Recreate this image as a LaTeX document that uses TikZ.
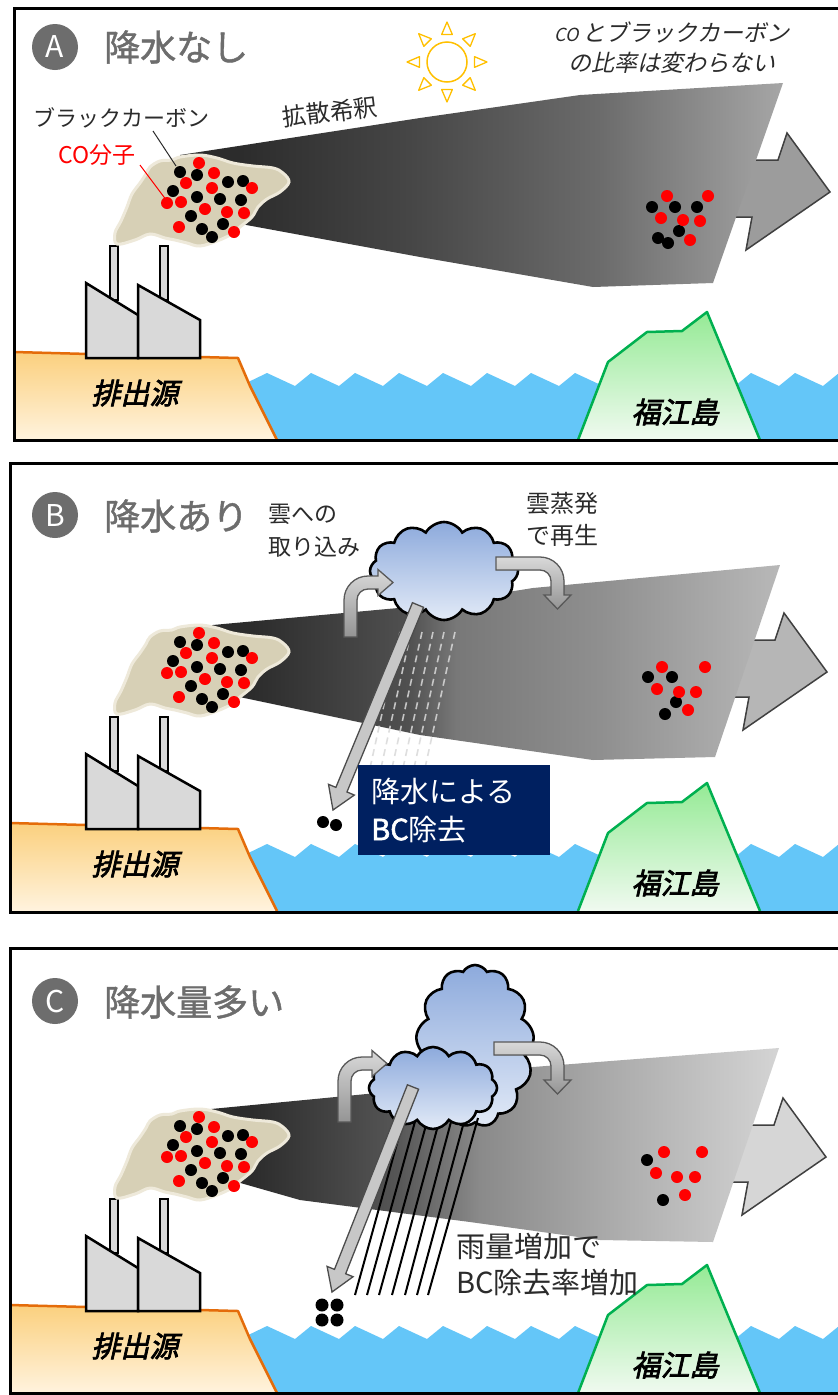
\documentclass[tikz,border=0pt]{standalone}
\usepackage{fontspec}
\newfontfamily\jp{Noto Sans CJK JP}
\newfontfamily\jpt[FakeBold=1.2]{Noto Sans CJK JP}
\newfontfamily\jpb[FakeBold=2]{Noto Sans CJK JP}
\newfontfamily\jpi[FakeSlant=0.22]{Noto Sans CJK JP}
\newfontfamily\jpbi[FakeBold=2.5,FakeSlant=0.22]{Noto Sans CJK JP}
\usetikzlibrary{shapes.symbols,calc}

\definecolor{titlegray}{HTML}{6D6D6D}
\definecolor{sunorange}{HTML}{FFC000}
\definecolor{seablue}{HTML}{64C6F8}
\definecolor{landedge}{HTML}{E46C0A}
\definecolor{landtop}{HTML}{FBD07E}
\definecolor{landbot}{HTML}{FFF3DE}
\definecolor{isledge}{HTML}{00B050}
\definecolor{isltop}{HTML}{95EA95}
\definecolor{islbot}{HTML}{F0FAF0}
\definecolor{smokefill}{HTML}{D7D0B6}
\definecolor{smokeedge}{HTML}{EEE9DA}
\definecolor{factoryfill}{HTML}{D9D9D9}
\definecolor{cloudtop}{HTML}{8DAADC}
\definecolor{cloudbot}{HTML}{E2EAF7}
\definecolor{navybox}{HTML}{002060}
\definecolor{textdark}{HTML}{2B2B2B}
\definecolor{dotred}{HTML}{FF0000}
\definecolor{arrowA}{HTML}{9C9C9C}
\definecolor{arrowB}{HTML}{B6B6B6}
\definecolor{arrowC}{HTML}{D6D6D6}
% plume colours
\definecolor{pA0}{HTML}{2C2C2C}\definecolor{pA1}{HTML}{464646}
\definecolor{pA2}{HTML}{6C6C6C}\definecolor{pA3}{HTML}{A6A6A6}
\definecolor{pB0}{HTML}{2C2C2C}\definecolor{pB1}{HTML}{505050}
\definecolor{pB2}{HTML}{787878}\definecolor{pB3}{HTML}{8F8F8F}\definecolor{pB4}{HTML}{B8B8B8}
\definecolor{pC0}{HTML}{2C2C2C}\definecolor{pC1}{HTML}{555555}
\definecolor{pC2}{HTML}{8A8A8A}\definecolor{pC3}{HTML}{A8A8A8}\definecolor{pC4}{HTML}{D4D4D4}

\pgfdeclarehorizontalshading{plumeA}{100bp}{color(0bp)=(pA0); color(30bp)=(pA0); color(44bp)=(pA1); color(60bp)=(pA2); color(75bp)=(pA3); color(100bp)=(pA3)}
\pgfdeclarehorizontalshading{plumeB}{100bp}{color(0bp)=(pB0); color(31bp)=(pB0); color(44bp)=(pB1); color(48bp)=(pB2); color(60bp)=(pB3); color(75bp)=(pB4); color(100bp)=(pB4)}
\pgfdeclarehorizontalshading{plumeC}{100bp}{color(0bp)=(pC0); color(31bp)=(pC0); color(43bp)=(pC1); color(50bp)=(pC2); color(60bp)=(pC3); color(75bp)=(pC4); color(100bp)=(pC4)}

\tikzset{
  factory/.style={fill=factoryfill, draw=black, line width=2.5, line join=miter},
  bigarrow/.style={draw=black!75, line width=1.5, line join=miter},
  bentarrow/.style={top color=black!15, bottom color=black!42, draw=black!65, line width=1.3, line join=miter},
  fallarrow/.style={fill=black!22, draw=black!70, line width=1.3, line join=miter},
  cloudnode/.style={cloud, cloud ignores aspect, draw=black, line width=2.6,
    top color=cloudtop, bottom color=cloudbot, inner sep=0},
  panelframe/.style={draw=black, line width=3},
  titletext/.style={anchor=west, inner sep=0, text=titlegray, font=\jpt\fontsize{36}{40}\selectfont},
  badge/.style={circle, fill=titlegray, text=white, minimum size=46, inner sep=0, font=\jp\fontsize{30}{32}\selectfont},
  note/.style={font=\jp\fontsize{23}{33}\selectfont, text=textdark, align=left, inner sep=0},
  placelabel/.style={font=\jpbi\fontsize{29}{30}\selectfont, inner sep=0},
}

% sea, source land, island and the factory of one panel
\newcommand{\drawbase}[2]{%
  \fill[seablue] (240,386) \foreach \k in {0,...,13} { -- ({267+44*\k},373) -- ({295+44*\k},386) } -- (850,386) -- (850,440) -- (240,440) -- cycle;
  \fill[top color=landtop, bottom color=landbot] (#2,352) -- (238,358) -- (250,386) -- (277,440) -- (#2,440) -- cycle;
  \draw[landedge, line width=2.5, line join=round] (#2,352) -- (238,358) -- (250,386) -- (277,440);
  \node[placelabel] (src#1) at (135,393) {排出源};
  \fill[top color=isltop, bottom color=islbot] (578,440) -- (608,362) -- (647,332) -- (682,331) -- (707,312) -- (760,440) -- cycle;
  \draw[isledge, line width=2.5, line join=round] (578,440) -- (608,362) -- (647,332) -- (682,331) -- (707,312) -- (760,440);
  \node[placelabel] (isl#1) at (675,412) {福江島};
  \filldraw[factory, line width=2] (110,246) rectangle (118,300);
  \filldraw[factory, line width=2] (160,246) rectangle (168,300);
  \filldraw[factory] (86,358) -- (86,283) -- (138,315) -- (138,358) -- cycle;
  \filldraw[factory] (138,358) -- (138,285) -- (200,320) -- (200,358) -- cycle;
}

% smoke cloud above the chimneys with its particles
\newcommand{\drawsmoke}{%
  \filldraw[fill=smokefill, draw=smokeedge, line width=3] plot[smooth cycle, tension=0.6] coordinates {
    (150,167) (160,161) (172,160) (180,157) (200,155) (217,158) (233,163) (253,166) (273,168)
    (283,173) (289,182) (280,192) (267,199) (258,207) (252,217) (240,227) (232,234) (217,241)
    (200,246) (187,243) (175,240) (165,238) (150,234) (135,240) (117,244) (115,233) (121,221)
    (127,207) (132,194) (140,183) (146,174)};
  \foreach \x/\y in {180/172,197/175,228/182,243/181,173/191,197/197,220/199,241/200,191/216,223/224,202/229,212/237}
    \fill[black] (\x,\y) circle (6);
  \foreach \x/\y in {199/163,214/173,186/183,252/188,212/188,167/203,181/202,205/209,227/212,244/213,179/227,234/232}
    \fill[dotred] (\x,\y) circle (6);
}

% bent arrow rising into a cloud: corner centre (#1,#2), foot at y=#3
\newcommand{\inarrow}[3]{%
  \filldraw[bentarrow] ({#1-24},#3) -- ({#1-24},#2)
    .. controls ({#1-24},{#2-13.25}) and ({#1-13.25},{#2-24}) .. (#1,{#2-24})
    -- ({#1+10},{#2-24}) -- ({#1+10},{#2-30.5}) -- ({#1+25},{#2-17.5}) -- ({#1+10},{#2-4.5})
    -- ({#1+10},{#2-11}) -- (#1,{#2-11})
    .. controls ({#1-6.1},{#2-11}) and ({#1-11},{#2-6.1}) .. ({#1-11},#2)
    -- ({#1-11},#3) -- cycle;
}
% bent arrow leaving a cloud: starts at x=#1, corner centre (#2,#3)
\newcommand{\outarrow}[3]{%
  \filldraw[bentarrow] (#1,{#3-24}) -- (#2,{#3-24})
    .. controls ({#2+13.25},{#3-24}) and ({#2+24},{#3-13.25}) .. ({#2+24},#3)
    -- ({#2+24},{#3+14}) -- ({#2+31},{#3+14}) -- ({#2+17.5},{#3+28}) -- ({#2+4},{#3+14})
    -- ({#2+11},{#3+14}) -- ({#2+11},#3)
    .. controls ({#2+11},{#3-6.1}) and ({#2+6.1},{#3-11}) .. (#2,{#3-11})
    -- (#1,{#3-11}) -- cycle;
}
% straight falling arrow from coordinate #1 to tip coordinate #2
\newcommand{\fallarrow}[2]{%
  \coordinate (#1hb) at ($(#2)!22pt!(#1)$);
  \filldraw[fallarrow] ($(#1)!6pt!90:(#2)$) -- ($(#1hb)!6pt!90:(#2)$) -- ($(#1hb)!14pt!90:(#2)$)
    -- (#2) -- ($(#1hb)!14pt!-90:(#2)$) -- ($(#1hb)!6pt!-90:(#2)$) -- ($(#1)!6pt!-90:(#2)$) -- cycle;
}

\begin{document}
\begin{tikzpicture}[x=1pt,y=-1pt]
\useasboundingbox (0,0) rectangle (838,1395);
\clip (0,0) rectangle (838,1395);
\fill[white] (0,0) rectangle (838,1395);

% ---------------- Panel A ----------------
\drawbase{A}{14}
\filldraw[bigarrow, fill=arrowA] (700,160) -- (778,160) -- (787,133) -- (830,192) -- (746,250) -- (752,217) -- (700,217) -- cycle;
\shade[shading=plumeA] (180,155) -- (420,118) -- (580,95) -- (783,83) -- (713,283) -- (593,287) -- (420,257) -- (230,222) -- cycle;
\drawsmoke
\foreach \x/\y in {652/207,675/207,697/207,679/231,658/238,668/243}
  \fill[black] (\x,\y) circle (6);
\foreach \x/\y in {667/196,708/196,661/218,683/220,700/221,690/240}
  \fill[dotred] (\x,\y) circle (6);
\node[badge] (badgeA) at (55,47) {A};
\node[titletext] (titleA) at (104,47) {降水なし};
\node[font=\jp\fontsize{22}{24}\selectfont, text=textdark, inner sep=0] (bcLabel) at (122,118) {ブラックカーボン};
\node[font=\jp\fontsize{23}{24}\selectfont, text=dotred, inner sep=0] (coLabel) at (97,155) {CO分子};
\coordinate (bcFrom) at (153,131); \coordinate (bcTo) at (176,166);
\draw[textdark, line width=1] (bcFrom) -- (bcTo);
\coordinate (coFrom) at (140,165); \coordinate (coTo) at (167,201);
\draw[dotred, line width=1] (coFrom) -- (coTo);
\node[font=\jp\fontsize{24}{26}\selectfont, text=textdark, rotate=7, inner sep=0] (diluteLabel) at (330,112) {拡散希釈};
\node[circle, draw=sunorange, line width=1.5, minimum size=40, inner sep=0] (sun) at (447,62) {};
\foreach \a in {0,45,...,315}
  \draw[sunorange, line width=1.3, line join=round] ($(sun.center)+({\a-11}:28)$) -- ($(sun.center)+(\a:40)$) -- ($(sun.center)+({\a+11}:28)$) -- cycle;
\node[font=\jpi\fontsize{23}{30}\selectfont, align=center, inner sep=0, text=textdark] (ratioNote) at (672,48)
  {{\fontsize{18}{30}\selectfont CO\,}とブラックカーボン\\の比率は変わらない};
\draw[panelframe] (850,8) -- (14,8) -- (14,440) -- (850,440);

% ---------------- Panel B ----------------
\begin{scope}[yshift=-471pt]\drawbase{B}{10}\end{scope}
\filldraw[bigarrow, fill=arrowB] (697,640) -- (775,640) -- (784,613) -- (827,672) -- (743,730) -- (749,697) -- (697,697) -- cycle;
\shade[shading=plumeB] (180,628) -- (420,606) -- (533,588) -- (780,565) -- (715,757) -- (593,760) -- (420,735) -- (230,695) -- cycle;
\begin{scope}[yshift=-470pt]\drawsmoke\end{scope}
\foreach \x/\y in {648/677,672/677,676/702,665/714}
  \fill[black] (\x,\y) circle (6);
\foreach \x/\y in {662/667,705/667,657/689,679/692,696/692,688/710}
  \fill[dotred] (\x,\y) circle (6);
\foreach \i in {0,...,5}
  \draw[black!15, line width=1.6, dash pattern=on 7pt off 5pt, opacity=0.85] ({400+11*\i},632) -- ({370+11*\i},768);
\node[cloudnode, cloud puffs=12, cloud puff arc=120, minimum width=148, minimum height=98] (cloudB) at (444,571) {};
\inarrow{368}{600}{637}
\outarrow{496}{540}{581}
\coordinate (fallB) at (418,605);
\coordinate (fallBtip) at (333,810);
\fallarrow{fallB}{fallBtip}
\fill[black] (323,822) circle (6);
\fill[black] (336,825) circle (6);
\node[fill=navybox, text=white, anchor=north west, minimum width=191, minimum height=90, text width=166,
  inner xsep=13, inner ysep=0, align=left, font=\jp\fontsize{29}{38}\selectfont] (removeBox) at (358,765)
  {降水による\\{\jpb BC}除去};
\node[badge] (badgeB) at (55,515) {B};
\node[titletext] (titleB) at (104,516) {降水あり};
\node[note, anchor=west] (intakeNote) at (268,531) {雲への\\取り込み};
\node[note, anchor=west, font=\jp\fontsize{24}{32}\selectfont] (evapNote) at (526,519) {雲蒸発\\で再生};
\draw[panelframe] (850,463) -- (10,463) -- (10,912) -- (850,912);

% ---------------- Panel C ----------------
\begin{scope}[yshift=-953pt]\drawbase{C}{10}\end{scope}
\filldraw[bigarrow, fill=arrowC] (696,1125) -- (774,1125) -- (783,1098) -- (826,1157) -- (742,1215) -- (748,1182) -- (696,1182) -- cycle;
\shade[shading=plumeC] (180,1112) -- (377,1093) -- (533,1067) -- (779,1048) -- (713,1242) -- (600,1240) -- (470,1222) -- (300,1200) -- (230,1180) -- cycle;
\begin{scope}[yshift=-954pt]\drawsmoke\end{scope}
\foreach \x/\y in {647/1160,663/1200}
  \fill[black] (\x,\y) circle (6);
\foreach \x/\y in {664/1152,702/1152,656/1173,677/1177,695/1177,685/1195}
  \fill[dotred] (\x,\y) circle (6);
\node[cloudnode, cloud puffs=13, cloud puff arc=120, minimum width=118, minimum height=162] (cloudBack) at (475,1046) {};
\outarrow{494}{540}{1066}
\foreach \t/\b in {404/355,416/367,428/379,440/392,452/405,465/417,478/428}
  \draw[black, line width=2] (\t,1118) -- (\b,1295);
\node[cloudnode, cloud puffs=12, cloud puff arc=120, minimum width=128, minimum height=82] (cloudFront) at (433,1088) {};
\inarrow{362}{1081}{1122}
\coordinate (fallC) at (413,1087);
\coordinate (fallCtip) at (332,1292);
\fallarrow{fallC}{fallCtip}
\foreach \x/\y in {322/1305,337/1305,322/1320,337/1320}
  \fill[black] (\x,\y) circle (6.5);
\node[badge] (badgeC) at (55,1001) {C};
\node[titletext] (titleC) at (104,1002) {降水量多い};
\node[note, anchor=west, font=\jp\fontsize{29}{36}\selectfont] (rainNote) at (456,1265) {雨量増加で\\BC除去率増加};
\draw[panelframe] (850,948) -- (10,948) -- (10,1393) -- (850,1393);
\end{tikzpicture}
\end{document}
